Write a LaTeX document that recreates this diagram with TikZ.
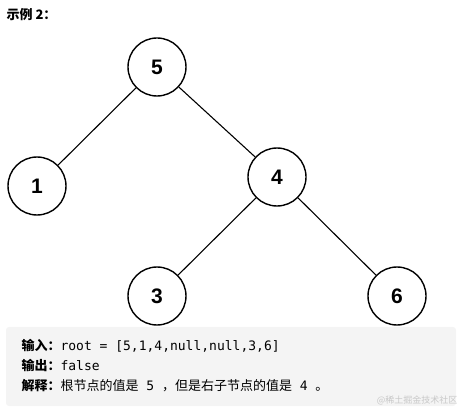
\documentclass[tikz,border=0pt]{standalone}
\usepackage{fontspec}
\setmainfont{Liberation Sans}
\setmonofont{DejaVu Sans Mono}
\newfontfamily\cjk{Noto Sans CJK SC}
\usetikzlibrary{arrows.meta,positioning,calc}
\definecolor{boxgray}{HTML}{F4F4F4}
\definecolor{markgray}{HTML}{C8C8C8}

\begin{document}
\begin{tikzpicture}[x=1pt,y=-1pt,
  treenode/.style={circle,draw,line width=1.4pt,minimum size=58pt,inner sep=0pt,
    font=\fontsize{21}{21}\selectfont\bfseries},
  edge/.style={line width=1.1pt}]
  \useasboundingbox (0,0) rectangle (472,417); % 画の大きさ
  \node[anchor=west,font=\cjk\fontsize{13}{13}\selectfont\bfseries] (title) at (3,15) {示例 2：}; % 見出し
  \node[treenode] (n5) at (157,67) {5}; % 根
  \node[treenode] (n1) at (37,186) {1}; % 左の子
  \node[treenode] (n4) at (277,177) {4}; % 右の子
  \node[treenode] (n3) at (157,296) {3}; % 4の左の子
  \node[treenode] (n6) at (397,296) {6}; % 4の右の子
  \draw[edge] (n5) -- (n1);
  \draw[edge] (n5) -- (n4);
  \draw[edge] (n4) -- (n3);
  \draw[edge] (n4) -- (n6);
  \fill[boxgray,rounded corners=3pt] (6,327) rectangle (456,406); % 説明の背景
  \node[anchor=west,font=\fontsize{13}{13}\selectfont] (input) at (18,346)
    {{\cjk\bfseries 输入：}\texttt{root = [5,1,4,null,null,3,6]}};
  \node[anchor=west,font=\fontsize{13}{13}\selectfont] (output) at (18,366)
    {{\cjk\bfseries 输出：}\texttt{false}};
  \node[anchor=west,font=\fontsize{13}{13}\selectfont] (explain) at (18,386)
    {{\cjk\bfseries 解释：}{\cjk 根节点的值是}\texttt{ 5 }{\cjk ，但是右子节点的值是}\texttt{ 4 }{\cjk 。}};
  \node[anchor=east,text=markgray,font=\cjk\fontsize{9}{9}\selectfont] (mark) at (461,400) {@稀土掘金技术社区}; % 透かし
\end{tikzpicture}
\end{document}
